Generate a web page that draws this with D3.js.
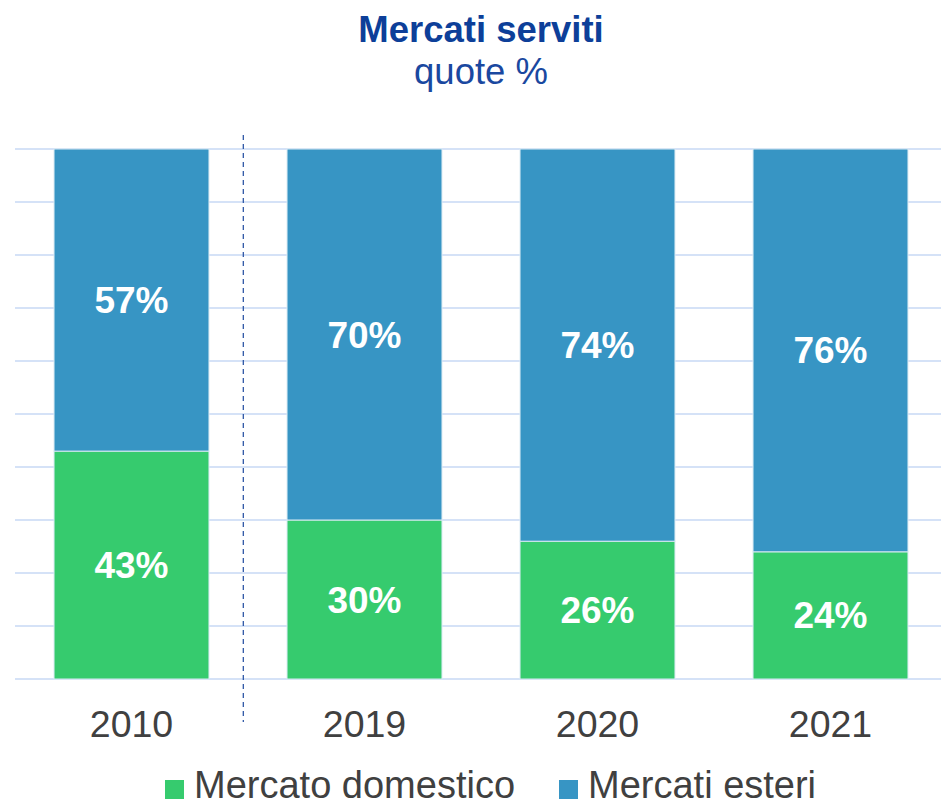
<!DOCTYPE html>
<html>
<head>
<meta charset="utf-8">
<script src="https://cdn.jsdelivr.net/npm/d3@7"></script>
<style>
  body { margin: 0; background: #fff; }
  text { font-family: "Liberation Sans", Arial, sans-serif; }
</style>
</head>
<body>
<script>
var width = 941, height = 802;

// data
var years = ["2010", "2019", "2020", "2021"];
var domestico = [43, 30, 26, 24];
var esteri = [57, 70, 74, 76];
var seriesNames = ["Mercato domestico", "Mercati esteri"];
var colors = ["#36cb6e", "#3795c4"];
var yTicks = [0, 10, 20, 30, 40, 50, 60, 70, 80, 90, 100];

var rows = years.map(function (y, i) {
    return {year: y, domestico: domestico[i], esteri: esteri[i]};
});
var stack = d3.stack().keys(["domestico", "esteri"])(rows);

var svg = d3.select("body").append("svg")
    .attr("width", width)
    .attr("height", height);

var x = d3.scaleBand()
    .domain(years)
    .range([15, 947])
    .paddingInner(0.335)
    .paddingOuter(0.1675);
var y = d3.scaleLinear()
    .domain([0, 100])
    .range([679, 149]);

// gridlines
svg.append("g").selectAll("line").data(yTicks)
    .enter().append("line")
    .attr("x1", 15).attr("x2", 941)
    .attr("y1", function (d) { return y(d); })
    .attr("y2", function (d) { return y(d); })
    .attr("stroke", "#d5e2f7")
    .attr("stroke-width", 2);

// bars
var layers = svg.selectAll(".layer").data(stack)
    .enter().append("g")
    .attr("class", "layer")
    .attr("fill", function (d, i) { return colors[i]; });

layers.selectAll("rect").data(function (d) { return d; })
    .enter().append("rect")
    .attr("x", function (d) { return x(d.data.year); })
    .attr("width", x.bandwidth())
    .attr("y", function (d) { return y(d[1]); })
    .attr("height", function (d) { return y(d[0]) - y(d[1]); })
    .attr("stroke", "#d9eaf3")
    .attr("stroke-width", 1);

layers.selectAll("text").data(function (d) { return d; })
    .enter().append("text")
    .attr("x", function (d) { return x(d.data.year) + x.bandwidth() / 2; })
    .attr("y", function (d) { return (y(d[0]) + y(d[1])) / 2 + 13; })
    .attr("text-anchor", "middle")
    .attr("fill", "#fff")
    .attr("font-weight", "bold")
    .attr("font-size", 37)
    .text(function (d) { return (d[1] - d[0]) + "%"; });

// dashed separator between 2010 and the recent years
var sepX = x("2010") + x.bandwidth() + (x("2019") - x("2010") - x.bandwidth()) * 0.44;
svg.append("line")
    .attr("x1", sepX).attr("x2", sepX)
    .attr("y1", 135).attr("y2", 722)
    .attr("stroke", "#2f57a6")
    .attr("stroke-width", 1.3)
    .attr("stroke-dasharray", "5,4");

// x axis labels
svg.append("g").selectAll("text").data(years)
    .enter().append("text")
    .attr("x", function (d) { return x(d) + x.bandwidth() / 2; })
    .attr("y", 737)
    .attr("text-anchor", "middle")
    .attr("fill", "#404040")
    .attr("font-size", 37.5)
    .text(function (d) { return d; });

// title
svg.append("text")
    .attr("x", 481).attr("y", 42)
    .attr("text-anchor", "middle")
    .attr("fill", "#0d3f99")
    .attr("font-weight", "bold")
    .attr("font-size", 36.5)
    .text("Mercati serviti");
svg.append("text")
    .attr("x", 481).attr("y", 84)
    .attr("text-anchor", "middle")
    .attr("fill", "#1a48a0")
    .attr("font-size", 36.5)
    .text("quote %");

// legend
var legendX = [165, 559];
var legend = svg.append("g").selectAll("g").data(seriesNames)
    .enter().append("g")
    .attr("transform", function (d, i) { return "translate(" + legendX[i] + ",0)"; });
legend.append("rect")
    .attr("x", 0).attr("y", 780)
    .attr("width", 19).attr("height", 19)
    .attr("fill", function (d, i) { return colors[i]; });
legend.append("text")
    .attr("x", 29).attr("y", 798)
    .attr("fill", "#404040")
    .attr("font-size", 38)
    .text(function (d) { return d; });
</script>
</body>
</html>
